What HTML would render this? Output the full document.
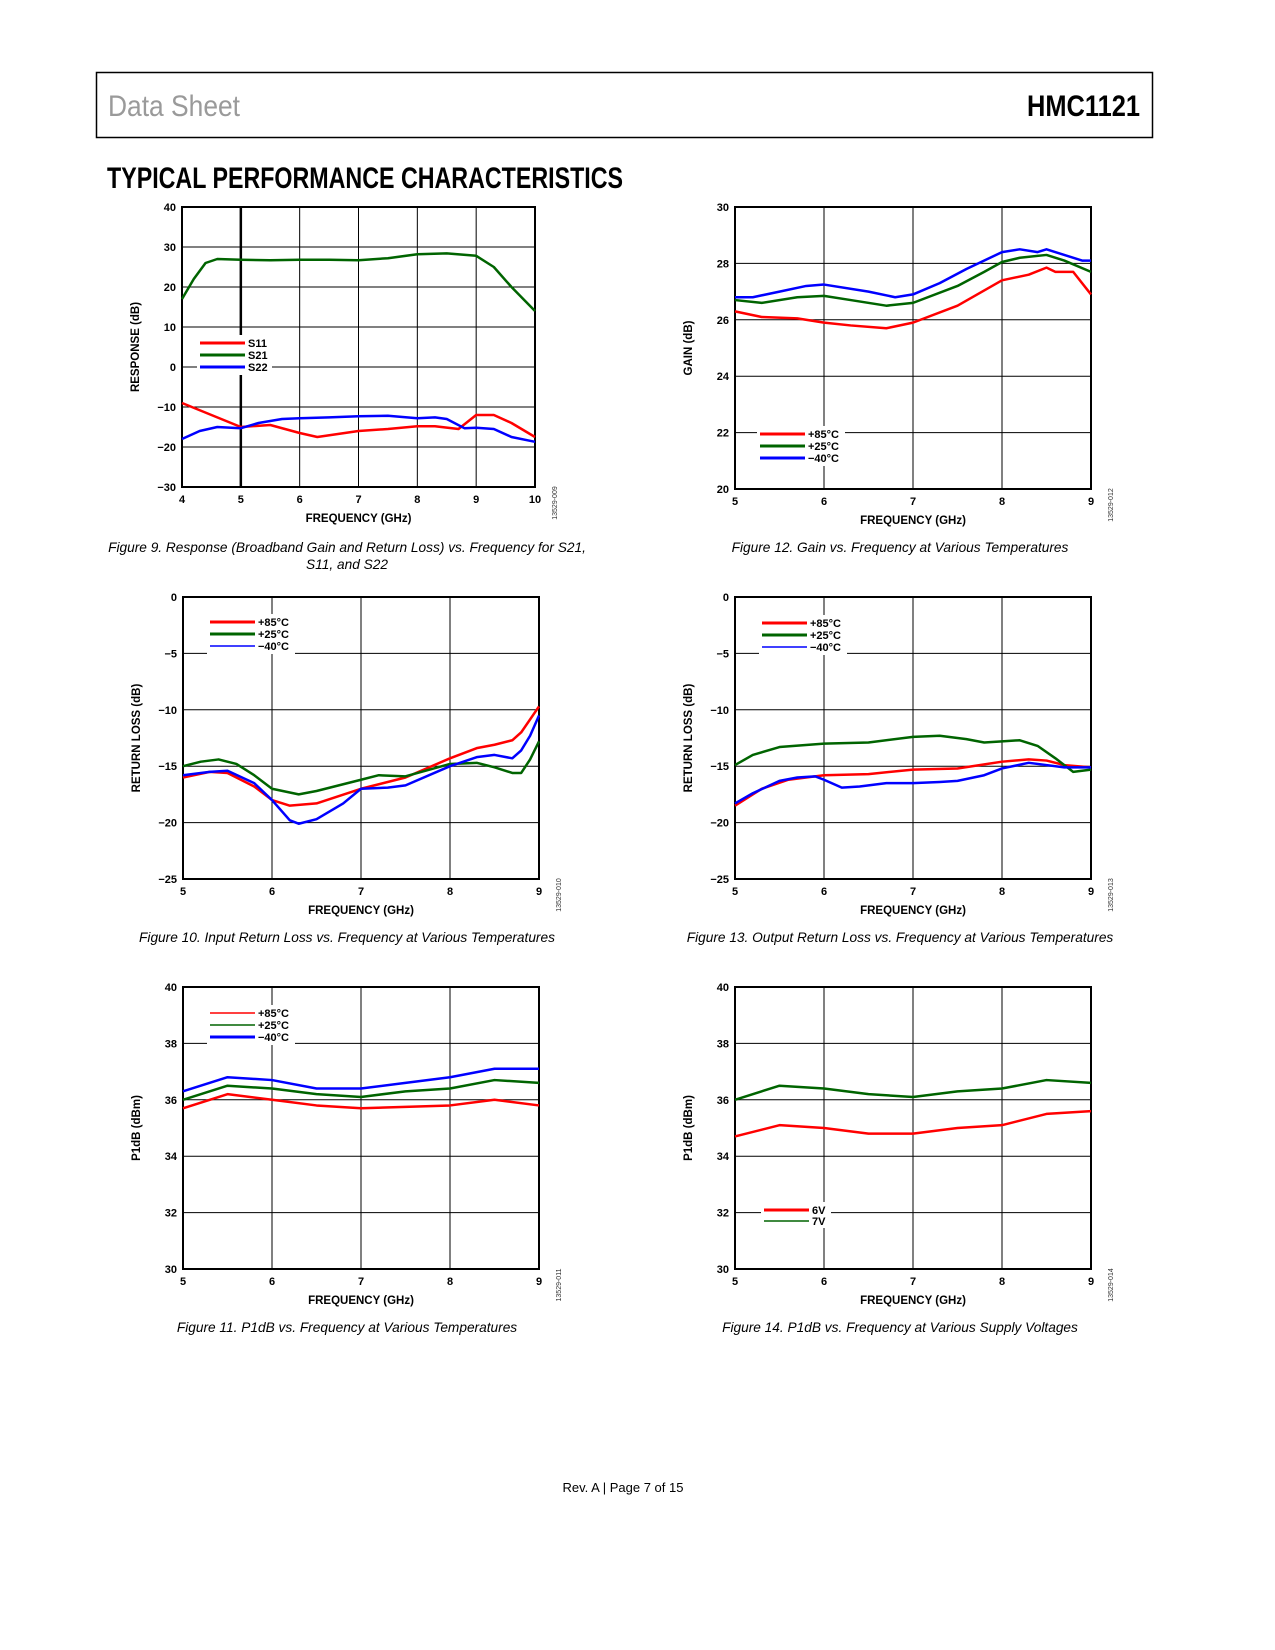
<!DOCTYPE html>
<html><head><meta charset="utf-8"><style>
body{margin:0;background:#fff;}
svg{display:block;}
</style></head><body>
<svg id="page" width="1275" height="1650" viewBox="0 0 1275 1650" xmlns="http://www.w3.org/2000/svg" font-family="Liberation Sans, Arial, sans-serif">
<rect x="96.5" y="72.5" width="1056" height="65" fill="none" stroke="#000" stroke-width="1.5"/>
<text x="108" y="116" font-size="30" fill="#9a9a9a" textLength="132" lengthAdjust="spacingAndGlyphs">Data Sheet</text>
<text x="1027" y="116" font-size="30" font-weight="bold" textLength="113" lengthAdjust="spacingAndGlyphs">HMC1121</text>
<text x="107" y="188" font-size="30" font-weight="bold" textLength="516" lengthAdjust="spacingAndGlyphs">TYPICAL PERFORMANCE CHARACTERISTICS</text>
<text x="623" y="1492" font-size="13" text-anchor="middle">Rev. A | Page 7 of 15</text>
<g id="charts"></g>
</svg>
<script>
// Figure 9
const f9x=[4,4.2,4.4,4.6,5,5.5,6,6.5,7,7.5,8,8.5,9,9.3,9.6,10];
const f9s21=[17,22,26,27,26.8,26.7,26.8,26.8,26.7,27.2,28.2,28.4,27.8,25,20,14];
const f9xs11=[4,4.5,5,5.5,6,6.3,7,7.5,8,8.3,8.7,9,9.3,9.6,10];
const f9s11=[-9,-12,-15,-14.5,-16.5,-17.5,-16,-15.5,-14.8,-14.8,-15.5,-12,-12,-14,-17.5];
const f9xs22=[4,4.3,4.6,5,5.3,5.7,6,6.5,7,7.5,8,8.3,8.5,8.8,9,9.3,9.6,10];
const f9s22=[-18,-16,-15,-15.3,-14,-13,-12.8,-12.6,-12.3,-12.2,-12.8,-12.6,-13,-15.3,-15.2,-15.5,-17.5,-18.7];
// Figure 12
const f12x85=[5,5.3,5.7,6,6.3,6.7,7,7.5,8,8.3,8.5,8.6,8.8,9];
const f12p85=[26.3,26.1,26.05,25.9,25.8,25.7,25.9,26.5,27.4,27.6,27.85,27.7,27.7,26.9];
const f12x25=[5,5.3,5.7,6,6.3,6.7,7,7.5,7.8,8,8.2,8.5,8.7,9];
const f12p25=[26.7,26.6,26.8,26.85,26.7,26.5,26.6,27.2,27.7,28.05,28.2,28.3,28.1,27.7];
const f12xm40=[5,5.2,5.5,5.8,6,6.5,6.8,7,7.3,7.6,8,8.2,8.4,8.5,8.7,8.9,9];
const f12m40=[26.8,26.8,27.0,27.2,27.25,27.0,26.8,26.9,27.3,27.8,28.4,28.5,28.4,28.5,28.3,28.1,28.1];
// Figure 10
const f10x85=[5,5.3,5.5,5.8,6,6.2,6.5,7,7.5,8,8.3,8.5,8.7,8.8,9];
const f10p85=[-16,-15.5,-15.6,-16.8,-18,-18.5,-18.3,-17,-16,-14.3,-13.4,-13.1,-12.7,-12,-9.7];
const f10x25=[5,5.2,5.4,5.6,5.8,6,6.3,6.5,7,7.2,7.5,8,8.3,8.5,8.7,8.8,8.9,9];
const f10p25=[-15,-14.6,-14.4,-14.8,-15.8,-17,-17.5,-17.2,-16.2,-15.8,-15.9,-14.8,-14.7,-15.1,-15.6,-15.6,-14.4,-12.8];
const f10xm40=[5,5.3,5.5,5.8,6,6.2,6.3,6.5,6.8,7,7.3,7.5,8,8.3,8.5,8.7,8.8,8.9,9];
const f10m40=[-15.8,-15.5,-15.4,-16.5,-18,-19.8,-20.1,-19.7,-18.3,-17,-16.9,-16.7,-15,-14.2,-14,-14.3,-13.6,-12.3,-10.5];
// Figure 13
const f13x85=[5,5.3,5.6,6,6.5,7,7.5,8,8.3,8.5,8.7,9];
const f13p85=[-18.5,-17,-16.2,-15.8,-15.7,-15.3,-15.2,-14.6,-14.4,-14.5,-14.9,-15.1];
const f13x25=[5,5.2,5.5,6,6.5,7,7.3,7.6,7.8,8,8.2,8.4,8.6,8.8,9];
const f13p25=[-14.9,-14,-13.3,-13,-12.9,-12.4,-12.3,-12.6,-12.9,-12.8,-12.7,-13.2,-14.3,-15.5,-15.3];
const f13xm40=[5,5.2,5.5,5.7,5.9,6,6.2,6.4,6.7,7,7.3,7.5,7.8,8,8.3,8.5,8.7,9];
const f13m40=[-18.3,-17.4,-16.3,-16,-15.9,-16.2,-16.9,-16.8,-16.5,-16.5,-16.4,-16.3,-15.8,-15.2,-14.7,-14.9,-15.1,-15.1];
// Figure 11 / 14
const fPx=[5,5.5,6,6.5,7,7.5,8,8.5,9];
const f11p85=[35.7,36.2,36.0,35.8,35.7,35.75,35.8,36.0,35.8];
const f11p25=[36.0,36.5,36.4,36.2,36.1,36.3,36.4,36.7,36.6];
const f11m40=[36.3,36.8,36.7,36.4,36.4,36.6,36.8,37.1,37.1];
const f14v6=[34.7,35.1,35.0,34.8,34.8,35.0,35.1,35.5,35.6];
const f14v7=[36.0,36.5,36.4,36.2,36.1,36.3,36.4,36.7,36.6];

const NS='http://www.w3.org/2000/svg';
const root=document.getElementById('charts');
function mk(tag,attrs,parent){const e=document.createElementNS(NS,tag);for(const k in attrs)e.setAttribute(k,attrs[k]);(parent||root).appendChild(e);return e;}
const RED='#ff0000',GRN='#006400',BLU='#0000ff';

function chart(c){
  const g=mk('g',{});
  
  
  const sx=v=>c.x0+(v-c.xmin)/(c.xmax-c.xmin)*(c.x1-c.x0);
  const sy=v=>c.y1-(v-c.ymin)/(c.ymax-c.ymin)*(c.y1-c.y0);
  for(let v=c.xmin;v<=c.xmax+1e-9;v+=c.xstep){
    const l=mk('line',{x1:sx(v),x2:sx(v),y1:c.y0,y2:c.y1,stroke:'#000','stroke-width':(c.thickX===v?2.5:1)},g);
    
    
    const t=mk('text',{x:sx(v),y:c.y1+16,'font-size':11,'font-weight':'bold','text-anchor':'middle'},g);
    t.textContent=v;
    
    
  }
  for(let v=c.ymin;v<=c.ymax+1e-9;v+=c.ystep){
    const l=mk('line',{x1:c.x0,x2:c.x1,y1:sy(v),y2:sy(v),stroke:'#000','stroke-width':1},g);
    
    
    const t=mk('text',{x:c.x0-6,y:sy(v)+4,'font-size':11,'font-weight':'bold','text-anchor':'end'},g);
    t.textContent=(v<0?'\u2212'+(-v):v);
    
    
  }
  const fr=mk('rect',{x:c.x0,y:c.y0,width:c.x1-c.x0,height:c.y1-c.y0,fill:'none',stroke:'#000','stroke-width':2},g);
  
  
  const lb=mk('rect',{x:c.lx-3,y:c.ly-8,width:c.lw,height:c.series.length*c.lsp+4,fill:'#fff'},g);
  
  
  c.series.forEach((s,i)=>{
    const pts=s.x.map((xv,j)=>sx(xv)+','+sy(s.y[j])).join(' ');
    const p=mk('polyline',{points:pts,fill:'none',stroke:s.color,'stroke-width':2.5,'stroke-linejoin':'round'},g);
    
    
  });
  c.series.forEach((s,i)=>{
    const yy=c.ly+i*c.lsp;
    const l=mk('line',{x1:c.lx,x2:c.lx+45,y1:yy,y2:yy,stroke:s.color,'stroke-width':s.thin?1.5:3},g);
    
    
    const t=mk('text',{x:c.lx+48,y:yy+4,'font-size':11,'font-weight':'bold'},g);
    t.textContent=s.label;
    
    
  });
  const xl=mk('text',{x:(c.x0+c.x1)/2,y:c.y1+35,'font-size':11.5,'font-weight':'bold','text-anchor':'middle'},g);
  xl.textContent='FREQUENCY (GHz)';
  
  
  const yc=(c.y0+c.y1)/2, yx=c.x0-43;
  const yl=mk('text',{x:yx,y:yc,'font-size':11.5,'font-weight':'bold','text-anchor':'middle',transform:`rotate(-90 ${yx} ${yc})`},g);
  yl.textContent=c.ytitle;
  
  
  const ix=c.x1+22, iy=c.y1+16;
  const id=mk('text',{x:ix,y:iy,'font-size':7,fill:'#333','text-anchor':'middle',transform:`rotate(-90 ${ix} ${iy})`},g);
  id.textContent=c.id;
  
  
  c.caption.forEach((line,i)=>{
    const t=mk('text',{x:c.cx,y:c.cy+i*17,'font-size':13.7,'font-style':'italic','text-anchor':'middle'},g);
    t.textContent=line;
    
    
  });
}
const T3=[['p85','+85°C',RED],['p25','+25°C',GRN],['m40','−40°C',BLU]];
chart({name:'figure-9-chart',x0:182,x1:535,y0:207,y1:487,xmin:4,xmax:10,xstep:1,ymin:-30,ymax:40,ystep:10,thickX:5,
  ytitle:'RESPONSE (dB)',id:'13529-009',lx:200,ly:343,lsp:12,lw:75,cx:347,cy:552,
  caption:['Figure 9. Response (Broadband Gain and Return Loss) vs. Frequency for S21,','S11, and S22'],
  series:[{key:'s11',label:'S11',color:RED,x:f9xs11,y:f9s11},{key:'s21',label:'S21',color:GRN,x:f9x,y:f9s21},{key:'s22',label:'S22',color:BLU,x:f9xs22,y:f9s22}]});
chart({name:'figure-12-chart',x0:735,x1:1091,y0:207,y1:489,xmin:5,xmax:9,xstep:1,ymin:20,ymax:30,ystep:2,
  ytitle:'GAIN (dB)',id:'13529-012',lx:760,ly:434,lsp:12,lw:88,cx:900,cy:552,
  caption:['Figure 12. Gain vs. Frequency at Various Temperatures'],
  series:[{key:'p85',label:T3[0][1],color:RED,x:f12x85,y:f12p85},{key:'p25',label:T3[1][1],color:GRN,x:f12x25,y:f12p25},{key:'m40',label:T3[2][1],color:BLU,x:f12xm40,y:f12m40}]});
chart({name:'figure-10-chart',x0:183,x1:539,y0:597,y1:879,xmin:5,xmax:9,xstep:1,ymin:-25,ymax:0,ystep:5,
  ytitle:'RETURN LOSS (dB)',id:'13529-010',lx:210,ly:622,lsp:12,lw:88,cx:347,cy:942,
  caption:['Figure 10. Input Return Loss vs. Frequency at Various Temperatures'],
  series:[{key:'p85',label:T3[0][1],color:RED,x:f10x85,y:f10p85},{key:'p25',label:T3[1][1],color:GRN,x:f10x25,y:f10p25},{key:'m40',label:T3[2][1],color:BLU,x:f10xm40,y:f10m40,thin:true}]});
chart({name:'figure-13-chart',x0:735,x1:1091,y0:597,y1:879,xmin:5,xmax:9,xstep:1,ymin:-25,ymax:0,ystep:5,
  ytitle:'RETURN LOSS (dB)',id:'13529-013',lx:762,ly:623,lsp:12,lw:88,cx:900,cy:942,
  caption:['Figure 13. Output Return Loss vs. Frequency at Various Temperatures'],
  series:[{key:'p85',label:T3[0][1],color:RED,x:f13x85,y:f13p85},{key:'p25',label:T3[1][1],color:GRN,x:f13x25,y:f13p25},{key:'m40',label:T3[2][1],color:BLU,x:f13xm40,y:f13m40,thin:true}]});
chart({name:'figure-11-chart',x0:183,x1:539,y0:987,y1:1269,xmin:5,xmax:9,xstep:1,ymin:30,ymax:40,ystep:2,
  ytitle:'P1dB (dBm)',id:'13529-011',lx:210,ly:1013,lsp:12,lw:88,cx:347,cy:1332,
  caption:['Figure 11. P1dB vs. Frequency at Various Temperatures'],
  series:[{key:'p85',label:T3[0][1],color:RED,x:fPx,y:f11p85,thin:true},{key:'p25',label:T3[1][1],color:GRN,x:fPx,y:f11p25,thin:true},{key:'m40',label:T3[2][1],color:BLU,x:fPx,y:f11m40}]});
chart({name:'figure-14-chart',x0:735,x1:1091,y0:987,y1:1269,xmin:5,xmax:9,xstep:1,ymin:30,ymax:40,ystep:2,
  ytitle:'P1dB (dBm)',id:'13529-014',lx:764,ly:1210,lsp:11,lw:70,cx:900,cy:1332,
  caption:['Figure 14. P1dB vs. Frequency at Various Supply Voltages'],
  series:[{key:'6v',label:'6V',color:RED,x:fPx,y:f14v6},{key:'7v',label:'7V',color:GRN,x:fPx,y:f14v7,thin:true}]});
</script>
</body></html>
